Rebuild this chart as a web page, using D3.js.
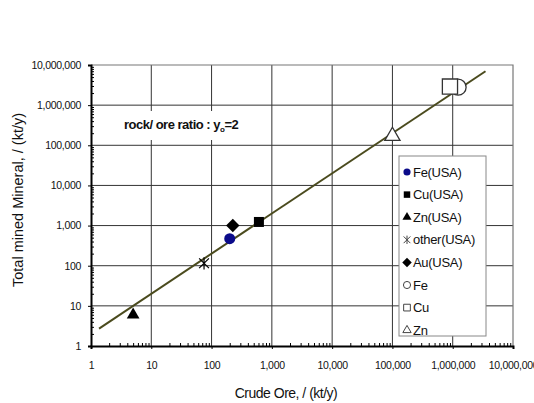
<!DOCTYPE html>
<html>
<head>
<meta charset="utf-8">
<script src="https://cdn.jsdelivr.net/npm/d3@7"></script>
<style>
  body { margin: 0; background: #fff; }
  svg { font-family: "Liberation Sans", Arial, sans-serif; }
</style>
</head>
<body>
<svg class="canvas"></svg>
<script>
const w = 534;
const h = 403;

// data: [crude ore kt/y, total mined kt/y]
const usaNames = ['Fe(USA)', 'Cu(USA)', 'Zn(USA)', 'other(USA)', 'Au(USA)'];
const usaOre = [200, 610, 5, 75, 225];
const usaTotal = [470, 1230, 6, 115, 1000];

const worldNames = ['Fe', 'Cu', 'Zn'];
const worldOre = [1230000, 900000, 100000];
const worldTotal = [2800000, 2900000, 170000];

const legendNames = ['Fe(USA)', 'Cu(USA)', 'Zn(USA)', 'other(USA)', 'Au(USA)', 'Fe', 'Cu', 'Zn'];
const ratio = 2;
const lineRange = [1.36, 3.5e6];
const decades = [1, 10, 100, 1e3, 1e4, 1e5, 1e6, 1e7];

const pLeft = 91, pRight = 513, pTop = 65, pBottom = 346;

const svg = d3.select('svg.canvas').attr('width', w).attr('height', h);

const xScale = d3.scaleLog().domain([1, 1e7]).range([pLeft, pRight]);
const yScale = d3.scaleLog().domain([1, 1e7]).range([pBottom, pTop]);

let minors = [];
decades.slice(0, -1).forEach(d => {
    for (let k = 2; k < 10; k++) minors.push(d * k);
});

// custom symbols: star of X plus vertical bar, and a square diamond
const symbolStar = {
    draw(ctx, size) {
        let r = Math.sqrt(size) / 2;
        let a = r * 0.8;
        ctx.moveTo(0, -r); ctx.lineTo(0, r);
        ctx.moveTo(-a, -a); ctx.lineTo(a, a);
        ctx.moveTo(-a, a); ctx.lineTo(a, -a);
    }
};
const symbolRhomb = {
    draw(ctx, size) {
        let r = Math.sqrt(size / 2);
        ctx.moveTo(0, -r); ctx.lineTo(r, 0); ctx.lineTo(0, r); ctx.lineTo(-r, 0); ctx.closePath();
    }
};

// grid
svg.append('g')
    .selectAll('line')
    .data(decades.slice(1, -1))
    .enter()
    .append('line')
    .attr('x1', d => xScale(d)).attr('x2', d => xScale(d))
    .attr('y1', pTop).attr('y2', pBottom)
    .attr('stroke', '#333').attr('stroke-width', 1);

svg.append('g')
    .selectAll('line')
    .data(decades.slice(1, -1))
    .enter()
    .append('line')
    .attr('y1', d => yScale(d)).attr('y2', d => yScale(d))
    .attr('x1', pLeft).attr('x2', pRight)
    .attr('stroke', '#333').attr('stroke-width', 1);

// frame top/right
svg.append('path')
    .attr('d', `M${pLeft},${pTop}H${pRight}V${pBottom}`)
    .attr('fill', 'none').attr('stroke', '#777').attr('stroke-width', 1.2);

// axes
const fmt = d3.format(',');
let xAxis = d3.axisBottom(xScale).tickValues(decades).tickFormat(fmt).tickSize(3).tickPadding(13);
let yAxis = d3.axisLeft(yScale).tickValues(decades).tickFormat(fmt).tickSize(3).tickPadding(7);

let gx = svg.append('g')
    .attr('transform', 'translate(0,' + pBottom + ')')
    .call(xAxis);
let gy = svg.append('g')
    .attr('transform', 'translate(' + pLeft + ',0)')
    .call(yAxis);

[gx, gy].forEach(g => {
    g.select('.domain').attr('stroke', '#000').attr('stroke-width', 2);
    g.selectAll('.tick line').attr('stroke', '#000');
    g.selectAll('.tick text')
        .attr('fill', '#111')
        .style('font-size', '10.5px')
        .style('letter-spacing', '-0.3px');
});

// minor ticks (inside)
svg.append('g')
    .attr('transform', 'translate(0,' + pBottom + ')')
    .call(d3.axisBottom(xScale).tickValues(minors).tickSize(-3).tickFormat(''))
    .call(g => g.select('.domain').remove())
    .selectAll('line').attr('stroke', '#000');
svg.append('g')
    .attr('transform', 'translate(' + pLeft + ',0)')
    .call(d3.axisLeft(yScale).tickValues(minors).tickSize(-3).tickFormat(''))
    .call(g => g.select('.domain').remove())
    .selectAll('line').attr('stroke', '#000');

// annotation with white backing
let ann = svg.append('text')
    .attr('x', 124).attr('y', 129)
    .attr('font-size', 13)
    .attr('font-weight', 'bold')
    .style('letter-spacing', '-0.5px')
    .attr('fill', '#111');
ann.append('tspan').text('rock/ ore ratio  : y');
ann.append('tspan').attr('font-size', 8).attr('dy', 3).text('o');
ann.append('tspan').attr('dy', -3).text('=2');
let bb = ann.node().getBBox();
svg.insert('rect', () => ann.node())
    .attr('x', bb.x - 4).attr('y', bb.y - 6)
    .attr('width', bb.width + 8).attr('height', bb.height + 12)
    .attr('fill', '#fff');

// ratio line
svg.append('line')
    .attr('x1', xScale(lineRange[0])).attr('y1', yScale(lineRange[0] * ratio))
    .attr('x2', xScale(lineRange[1])).attr('y2', yScale(lineRange[1] * ratio))
    .attr('stroke', '#4b4b1e').attr('stroke-width', 2);

// symbols
const symFor = {
    'Fe(USA)': { type: d3.symbolCircle, size: 95, leg: 40, fill: '#0b0b8a', stroke: 'none' },
    'Cu(USA)': { type: d3.symbolSquare, size: 100, leg: 42, fill: '#000', stroke: 'none' },
    'Zn(USA)': { type: d3.symbolTriangle, size: 70, leg: 36, fill: '#000', stroke: 'none' },
    'other(USA)': { type: symbolStar, size: 150, leg: 70, fill: 'none', stroke: '#000' },
    'Au(USA)': { type: symbolRhomb, size: 90, leg: 45, fill: '#000', stroke: 'none' },
    'Fe': { type: d3.symbolCircle, size: 200, leg: 40, fill: '#fff', stroke: '#333' },
    'Cu': { type: d3.symbolSquare, size: 230, leg: 45, fill: '#fff', stroke: '#333' },
    'Zn': { type: d3.symbolTriangle, size: 100, leg: 30, fill: '#fff', stroke: '#333' }
};

let pts = worldNames.map((n, i) => ({ name: n, x: worldOre[i], y: worldTotal[i] }))
    .concat(usaNames.map((n, i) => ({ name: n, x: usaOre[i], y: usaTotal[i] })));

svg.append('g')
    .selectAll('path')
    .data(pts)
    .enter()
    .append('path')
    .attr('transform', d => 'translate(' + xScale(d.x) + ',' + yScale(d.y) + ')')
    .attr('d', d => d3.symbol().type(symFor[d.name].type).size(symFor[d.name].size)())
    .attr('fill', d => symFor[d.name].fill)
    .attr('stroke', d => symFor[d.name].stroke)
    .attr('stroke-width', d => d.name === 'other(USA)' ? 1.2 : 1.3);

// legend
let lg = svg.append('g');
lg.append('rect')
    .attr('x', 399).attr('y', 156).attr('width', 87).attr('height', 180)
    .attr('fill', '#fff').attr('stroke', '#888').attr('stroke-width', 1);

let items = lg.selectAll('g.item')
    .data(legendNames)
    .enter()
    .append('g')
    .attr('transform', (d, i) => 'translate(407,' + (172 + i * 22.6) + ')');

items.append('path')
    .attr('d', d => d3.symbol().type(symFor[d].type).size(symFor[d].leg)())
    .attr('fill', d => symFor[d].fill)
    .attr('stroke', d => symFor[d].stroke === 'none' ? 'none' : '#444')
    .attr('stroke-width', 1);

items.append('text')
    .attr('x', 6).attr('y', 4.5)
    .attr('font-size', 13)
    .style('letter-spacing', '-0.3px')
    .attr('fill', '#111')
    .text(d => d);

// axis titles
svg.append('text')
    .attr('x', 286).attr('y', 398)
    .attr('text-anchor', 'middle')
    .attr('font-size', 14)
    .style('letter-spacing', '-0.5px')
    .attr('fill', '#111')
    .text('Crude Ore, / (kt/y)');

svg.append('text')
    .attr('transform', 'translate(23,200) rotate(-90)')
    .attr('text-anchor', 'middle')
    .attr('font-size', 14.5)
    .attr('fill', '#111')
    .text('Total mined Mineral, / (kt/y)');
</script>
</body>
</html>
